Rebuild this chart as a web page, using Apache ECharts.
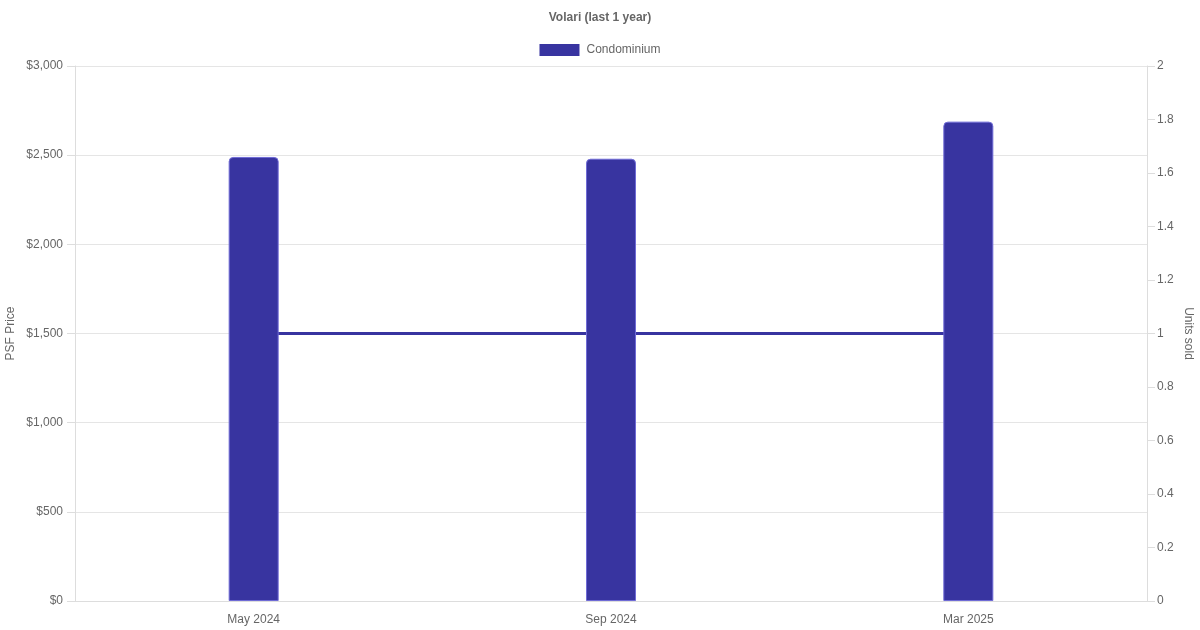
<!DOCTYPE html>
<html>
<head>
<meta charset="utf-8">
<script src="https://cdn.jsdelivr.net/npm/echarts@6/dist/echarts.min.js"></script>
<style>html,body{margin:0;padding:0;background:#fff}#c{width:1200px;height:630px}</style>
</head>
<body>
<div id="c"></div>
<script>
const categories = ['May 2024', 'Sep 2024', 'Mar 2025'];
const psfPrice = [2490, 2480, 2688];
const unitsSold = [1, 1, 1];
const leftTicks = [0, 500, 1000, 1500, 2000, 2500, 3000];

const chart = echarts.init(document.getElementById('c'));
const font = 'Liberation Sans, Arial, Helvetica, sans-serif';
const axisColor = '#dddddd';
chart.setOption({
  animation: false,
  textStyle: { fontFamily: font },
  title: {
    text: 'Volari (last 1 year)', left: 'center', top: 7,
    textStyle: { fontSize: 12, fontWeight: 'bold', color: '#666', fontFamily: font }
  },
  legend: {
    data: [{ name: 'Condominium', icon: 'rect', itemStyle: { borderWidth: 0 } }],
    top: 39, left: 'center',
    itemWidth: 40, itemHeight: 12, itemGap: 10,
    textStyle: { fontSize: 12, color: '#666', fontFamily: font, padding: [0, 0, 0, 2] }
  },
  grid: { left: 75, right: 53, top: 66, bottom: 29, containLabel: false, outerBoundsMode: 'none' },
  xAxis: {
    type: 'category', data: categories,
    axisLine: { lineStyle: { color: axisColor } },
    axisTick: { show: false },
    splitLine: { show: false },
    axisLabel: { color: '#666', fontSize: 12, margin: 13, fontFamily: font }
  },
  yAxis: [
    {
      type: 'value', min: 0, max: 3000, interval: 500,
      name: 'PSF Price', nameLocation: 'middle', nameGap: 58, nameRotate: 90, nameMoveOverlap: false,
      nameTextStyle: { color: '#666', fontSize: 12, fontFamily: font },
      axisLine: { show: true, lineStyle: { color: axisColor } },
      axisTick: { show: true, length: 8, lineStyle: { color: axisColor } },
      splitLine: { show: true, lineStyle: { color: '#e5e5e5' } },
      axisLabel: { color: '#666', fontSize: 12, margin: 12, fontFamily: font,
        formatter: v => '$' + v.toLocaleString('en-US') }
    },
    {
      type: 'value', min: 0, max: 2, interval: 0.2, position: 'right',
      name: 'Units sold', nameLocation: 'middle', nameGap: 35, nameRotate: -90, nameMoveOverlap: false,
      nameTextStyle: { color: '#666', fontSize: 12, fontFamily: font },
      axisLine: { show: true, lineStyle: { color: axisColor } },
      axisTick: { show: true, length: 8, lineStyle: { color: axisColor } },
      splitLine: { show: false },
      axisLabel: { color: '#666', fontSize: 12, margin: 10, fontFamily: font,
        formatter: v => String(Math.round(v * 10) / 10) }
    }
  ],
  series: [
    {
      name: 'Condominium', type: 'bar', data: psfPrice, yAxisIndex: 0,
      barWidth: 50, z: 3,
      itemStyle: { color: '#3834a0', borderColor: '#6f6bd6', borderWidth: 1, borderRadius: [4, 4, 0, 0] }
    },
    {
      name: 'Units', type: 'line', data: unitsSold, yAxisIndex: 1,
      symbol: 'none', z: 2,
      lineStyle: { color: '#3834a0', width: 3 }
    }
  ]
});
</script>
</body>
</html>
